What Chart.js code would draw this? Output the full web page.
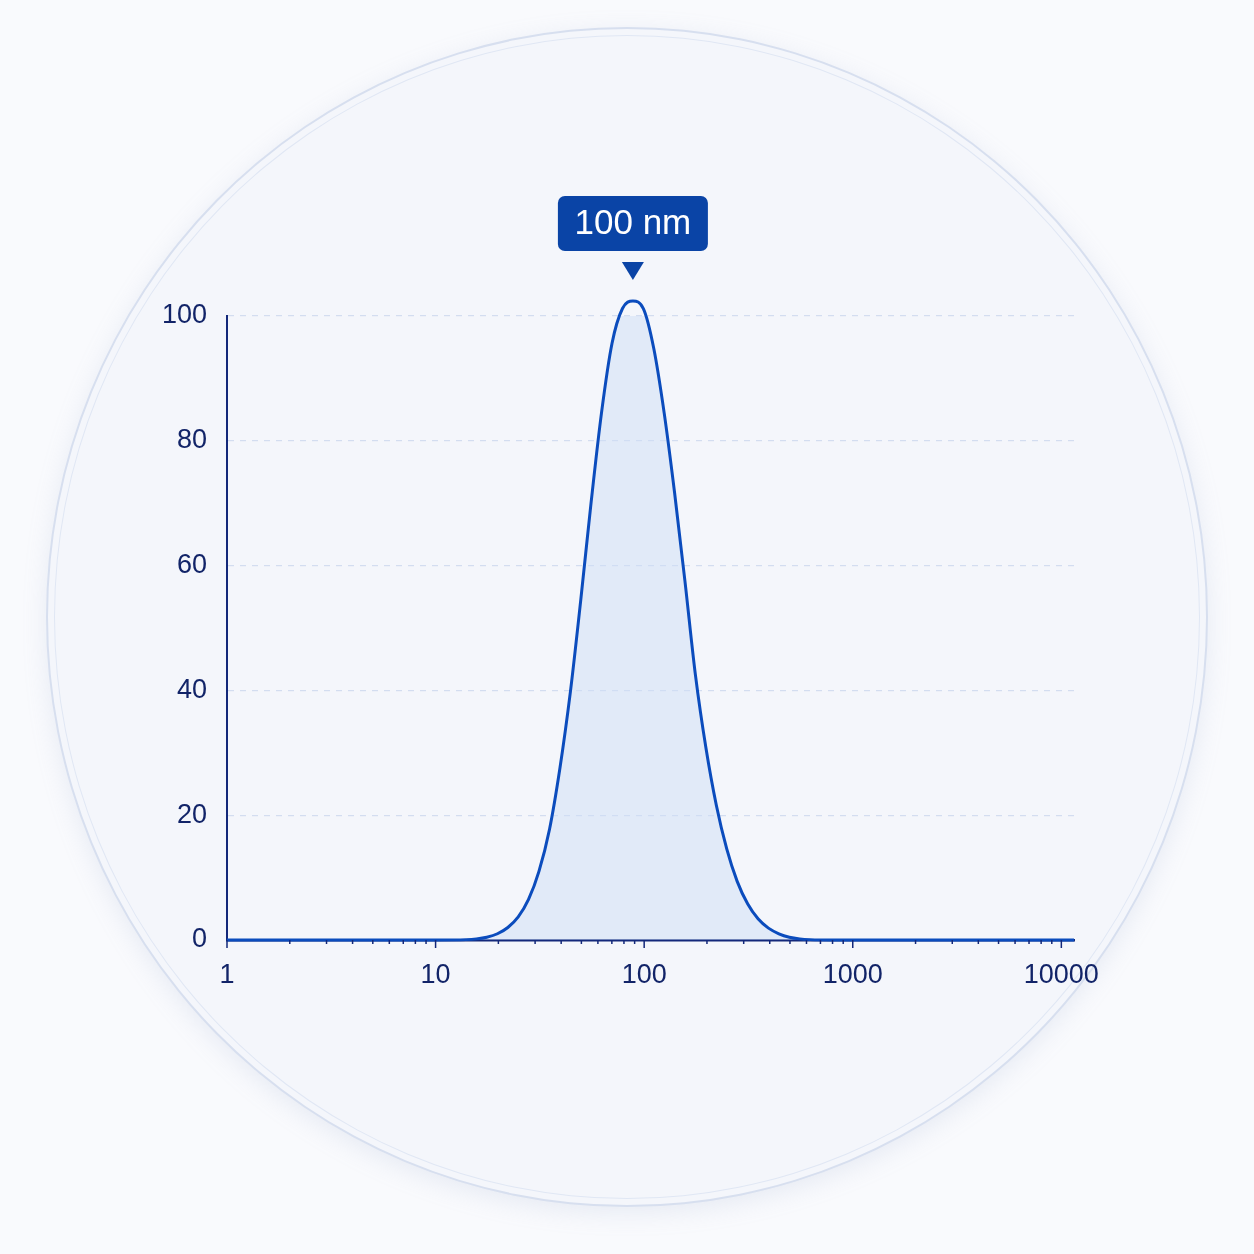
<!DOCTYPE html>
<html>
<head>
<meta charset="utf-8">
<script src="https://cdn.jsdelivr.net/npm/chart.js@4/dist/chart.umd.min.js"></script>
<style>
    html, body {
        margin: 0;
        padding: 0;
        width: 1254px;
        height: 1254px;
        background: #f9fafd;
        overflow: hidden;
        font-family: 'Liberation Sans', Arial, sans-serif;
    }
    .dish {
        position: absolute;
        left: 46px;
        top: 27px;
        width: 1158px;
        height: 1176px;
        border-radius: 50%;
        border: 2px solid #d7dfef;
        background: #f4f6fb;
        box-shadow: 0 6px 24px rgba(150, 165, 200, 0.18);
    }
    .dish-inner {
        position: absolute;
        left: 6px;
        top: 6px;
        right: 6px;
        bottom: 6px;
        border-radius: 50%;
        border: 1.5px solid #e0e7f4;
    }
    #sizeChart {
        position: absolute;
        left: 0;
        top: 0;
    }
</style>
</head>
<body>
<div class="dish"><div class="dish-inner"></div></div>
<canvas id="sizeChart" width="1254" height="1254"></canvas>
<script>
// particle size (nm) and intensity
const sizes = [1, 10, 14.0, 15.7, 17.6, 19.8, 22.2, 24.9, 27.9, 31.3, 35.2, 39.4, 44.3, 49.7, 55.7, 62.5, 70.1, 78.7,
    88.3,
    99.1, 111.2, 124.8, 140.0, 157.0, 176.2, 197.7, 221.8, 248.8, 279.2, 313.3, 351.5, 394.4, 442.6, 496.5, 557.2, 625.1,
    800, 10000, 11500];
const intensity = [0, 0, 0.06, 0.18, 0.45, 1.0, 2.0, 3.7, 6.5, 11.0, 17.8, 27.4, 39.8, 54.6, 70.2, 84.6, 95.6, 101.2,
    102.4,
    101.2, 94.8, 84.4, 71.6, 57.4, 42.4, 30.8, 21.6, 14.6, 9.4, 5.8, 3.4, 1.9, 1.0, 0.45, 0.18, 0.06,
    0, 0, 0];
const xTicks = [1, 10, 100, 1000, 10000];
const yTicks = [0, 20, 40, 60, 80, 100];
const peakLabel = '100 nm';

const AXIS_COLOR = '#13287a';
const LINE_COLOR = '#0b4cbd';
const TEXT_COLOR = '#122468';

const points = sizes.map((size, i) => ({ x: size, y: intensity[i] }));

// short minor ticks (2..9 each decade) and longer major ticks below the x axis
const logTicksPlugin = {
    id: 'logTicks',
    afterDraw(chart) {
        const { ctx, scales: { x } } = chart;
        const yPos = chart.chartArea.bottom;
        ctx.save();
        ctx.strokeStyle = AXIS_COLOR;
        ctx.lineWidth = 1.5;
        for (let k = 0; k < 4; k++) {
            for (let d = 2; d <= 9; d++) {
                const px = x.getPixelForValue(d * Math.pow(10, k));
                ctx.beginPath();
                ctx.moveTo(px, yPos);
                ctx.lineTo(px, yPos + 4);
                ctx.stroke();
            }
        }
        xTicks.forEach((value) => {
            const px = x.getPixelForValue(value);
            ctx.beginPath();
            ctx.moveTo(px, yPos);
            ctx.lineTo(px, yPos + 8);
            ctx.stroke();
        });
        ctx.restore();
    }
};

// "100 nm" badge with a pointer above the peak
const peakBadgePlugin = {
    id: 'peakBadge',
    afterDatasetsDraw(chart) {
        const { ctx, scales: { x, y } } = chart;
        let peakIndex = 0;
        intensity.forEach((value, i) => {
            if (value > intensity[peakIndex]) peakIndex = i;
        });
        const px = x.getPixelForValue(sizes[peakIndex]);
        const py = y.getPixelForValue(intensity[peakIndex]);

        const boxW = 150;
        const boxH = 55;
        const boxBottom = py - 50;
        const boxLeft = px - boxW / 2;
        ctx.save();
        ctx.fillStyle = '#0a44a6';
        ctx.beginPath();
        ctx.roundRect(boxLeft, boxBottom - boxH, boxW, boxH, 7);
        ctx.fill();

        ctx.beginPath();
        ctx.moveTo(px - 11, py - 39);
        ctx.lineTo(px + 11, py - 39);
        ctx.lineTo(px, py - 21);
        ctx.closePath();
        ctx.fill();

        ctx.fillStyle = '#ffffff';
        ctx.font = '35px "Liberation Sans", Arial, sans-serif';
        ctx.textAlign = 'center';
        ctx.textBaseline = 'middle';
        ctx.fillText(peakLabel, px, boxBottom - boxH / 2 + 1);
        ctx.restore();
    }
};

new Chart(document.getElementById('sizeChart'), {
    type: 'line',
    data: {
        datasets: [
            {
                data: points,
                borderColor: LINE_COLOR,
                borderWidth: 3,
                backgroundColor: 'rgba(205, 222, 246, 0.5)',
                fill: 'origin',
                pointRadius: 0,
                cubicInterpolationMode: 'monotone',
                clip: false
            }
        ]
    },
    options: {
        responsive: false,
        animation: false,
        layout: {
            padding: { top: 316, right: 180, left: 0, bottom: 0 }
        },
        plugins: {
            legend: { display: false },
            tooltip: { enabled: false }
        },
        scales: {
            x: {
                type: 'logarithmic',
                min: 1,
                max: 11500,
                z: 1,
                afterFit: (scale) => { scale.height = 314; },
                afterBuildTicks: (scale) => {
                    scale.ticks = xTicks.map((value) => ({ value }));
                },
                grid: { display: false },
                border: { display: true, color: AXIS_COLOR, width: 2.5 },
                ticks: {
                    color: TEXT_COLOR,
                    padding: 11,
                    maxRotation: 0,
                    autoSkip: false,
                    font: { family: '"Liberation Sans", Arial, sans-serif', size: 27 },
                    callback: (value) => String(value)
                }
            },
            y: {
                min: 0,
                max: 100,
                afterFit: (scale) => { scale.width = 227; },
                afterBuildTicks: (scale) => {
                    scale.ticks = yTicks.map((value) => ({ value }));
                },
                grid: {
                    drawTicks: false,
                    lineWidth: 1.2,
                    color: (ctx) => (ctx.tick && ctx.tick.value === 0 ? 'rgba(0,0,0,0)' : '#d3ddf0')
                },
                border: { display: true, color: AXIS_COLOR, width: 2, dash: [6, 6] },
                ticks: {
                    color: TEXT_COLOR,
                    padding: 20,
                    font: { family: '"Liberation Sans", Arial, sans-serif', size: 27 }
                }
            }
        }
    },
    plugins: [logTicksPlugin, peakBadgePlugin]
});
</script>
</body>
</html>
